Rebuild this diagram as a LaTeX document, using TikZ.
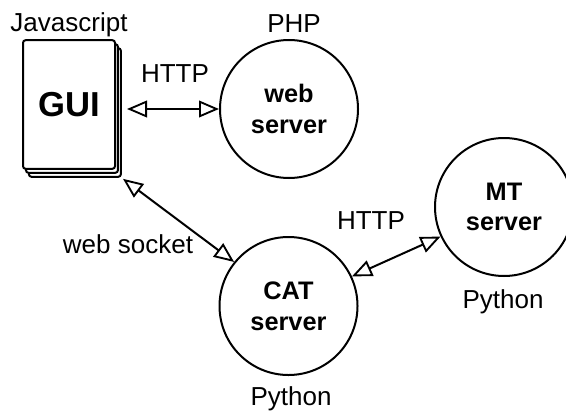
\documentclass[tikz,border=0pt]{standalone}
\usepackage{fontspec}
\setmainfont{Liberation Sans}
\usetikzlibrary{arrows.meta}
\usetikzlibrary{shadows}
\tikzset{
	server/.style={draw,circle,line width=1.5pt,minimum size=103.5pt,inner sep=0pt,align=center,font=\fontsize{19}{23}\selectfont\bfseries},
	link/.style={line width=1.5pt,{Triangle[open,length=15pt,width=12.5pt,line width=1.4pt]}-{Triangle[open,length=15pt,width=12.5pt,line width=1.4pt]}},
	tag/.style={font=\fontsize{19.5}{23}\selectfont}
}
\begin{document}
\begin{tikzpicture}[x=0.75pt,y=-0.75pt]
	\useasboundingbox (0,0) rectangle (566,410);

	\node[draw,fill=white,line width=1.5pt,rounded corners=2pt,minimum width=69pt,minimum height=96.5pt,inner sep=0pt,
		double copy shadow={shadow xshift=2.2pt,shadow yshift=-3pt,draw,fill=white},font=\fontsize{26}{31}\selectfont\bfseries] (gui) at (69,104.5) {GUI};
	\node[server] (web) at (289,109) {web\\server};
	\node[server] (cat) at (288.5,306) {CAT\\server};
	\node[server] (mt) at (504,207) {MT\\server};

	\draw[link] ([shift={(11,4.5)}]gui.east) -- (web.west);
	\draw[link] ([shift={(7,9)}]gui.south east) -- (cat.141);
	\draw[link] (cat.25) -- (mt.205);

	\node[tag] (js) at (69,25) {Javascript};
	\node[tag] (php) at (294,24) {PHP};
	\node[tag] (http1) at (175,74) {HTTP};
	\node[tag] (socket) at (128,244) {web socket};
	\node[tag] (http2) at (371,221) {HTTP};
	\node[tag] (pymt) at (503,302) {Python};
	\node[tag] (pycat) at (291,399) {Python};
\end{tikzpicture}
\end{document}
